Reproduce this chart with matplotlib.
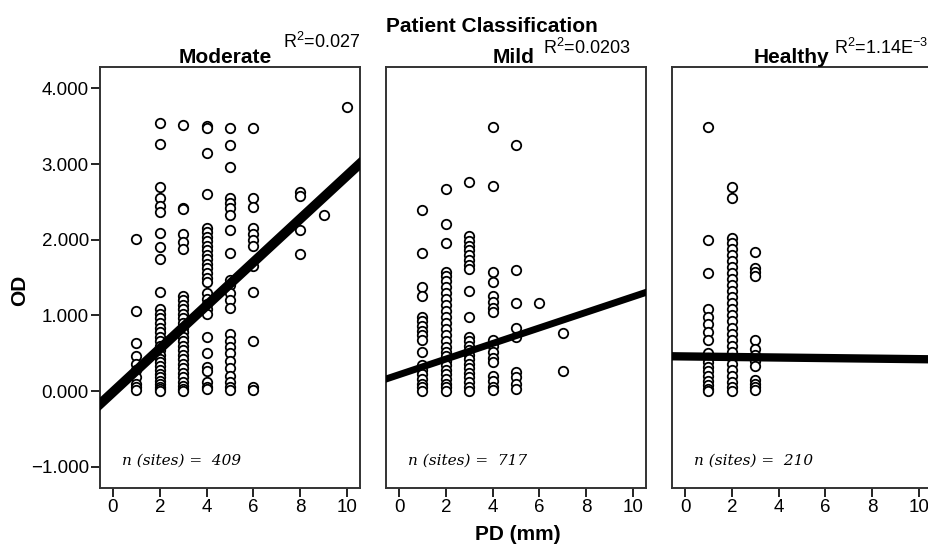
import matplotlib.pyplot as plt

plt.rcParams["font.family"] = ["Liberation Sans", "DejaVu Sans"]
plt.rcParams["mathtext.fontset"] = "custom"
plt.rcParams["mathtext.rm"] = "Liberation Sans"
plt.rcParams["axes.unicode_minus"] = True

# OD values per PD column
moderate = {
    1: [2.01, 1.06, 0.64, 0.47, 0.36, 0.28, 0.18, 0.10, 0.05, 0.02],
    2: [3.54, 3.26, 2.69, 2.55, 2.45, 2.37, 2.09, 1.91, 1.74, 1.31,
        1.08, 1.02, 0.96, 0.90, 0.84, 0.78, 0.72, 0.66, 0.60, 0.54, 0.48,
        0.43, 0.38, 0.33, 0.28, 0.23, 0.18, 0.14, 0.10, 0.06, 0.03, 0.0],
    3: [3.52, 2.42, 2.40, 2.07, 1.97, 1.88, 1.25, 1.20, 1.14, 1.08, 1.02,
        0.96, 0.90, 0.84, 0.78, 0.72, 0.66, 0.60, 0.54, 0.48, 0.42, 0.36,
        0.30, 0.24, 0.18, 0.12, 0.07, 0.03, 0.0],
    4: [3.50, 3.47, 3.15, 2.60, 2.16, 2.10, 2.04, 1.98, 1.92, 1.86, 1.80,
        1.74, 1.68, 1.62, 1.56, 1.50, 1.44, 1.30, 1.22, 1.15, 1.08, 1.02,
        0.72, 0.50, 0.32, 0.27, 0.12, 0.06, 0.03],
    5: [3.48, 3.25, 2.96, 2.55, 2.48, 2.42, 2.33, 2.13, 1.83, 1.47, 1.40,
        1.30, 1.20, 1.10, 0.75, 0.66, 0.58, 0.50, 0.40, 0.30, 0.20, 0.12,
        0.06, 0.02],
    6: [3.48, 2.55, 2.43, 2.16, 2.07, 1.99, 1.92, 1.65, 1.31, 0.66, 0.06, 0.02],
    8: [2.63, 2.58, 2.13, 1.81],
    9: [2.33],
    10: [3.75],
}
mild = {
    1: [2.39, 1.82, 1.38, 1.25, 0.98, 0.92, 0.86, 0.80, 0.74, 0.68, 0.52,
        0.34, 0.28, 0.22, 0.16, 0.10, 0.05, 0.0],
    2: [2.67, 2.21, 1.96, 1.58, 1.52, 1.45, 1.38, 1.30, 1.22, 1.14, 1.06,
        0.98, 0.90, 0.82, 0.74, 0.66, 0.58, 0.52, 0.46, 0.40, 0.34, 0.28,
        0.22, 0.16, 0.10, 0.05, 0.0],
    3: [2.76, 2.05, 1.98, 1.92, 1.86, 1.80, 1.73, 1.66, 1.61, 1.32, 0.98,
        0.72, 0.66, 0.60, 0.54, 0.48, 0.42, 0.36, 0.30, 0.24, 0.18, 0.12,
        0.06, 0.0],
    4: [3.49, 2.71, 1.57, 1.44, 1.26, 1.18, 1.10, 1.04, 0.68, 0.60, 0.52,
        0.44, 0.38, 0.20, 0.13, 0.06, 0.01],
    5: [3.25, 1.60, 1.16, 0.83, 0.72, 0.25, 0.18, 0.10, 0.03],
    6: [1.16],
    7: [0.77, 0.27],
}
healthy = {
    1: [3.49, 1.99, 1.56, 1.08, 0.98, 0.88, 0.78, 0.68, 0.50, 0.44, 0.38,
        0.32, 0.26, 0.20, 0.14, 0.08, 0.03, 0.0],
    2: [2.70, 2.55, 2.02, 1.95, 1.88, 1.80, 1.72, 1.64, 1.56, 1.48, 1.40,
        1.32, 1.24, 1.16, 1.08, 1.00, 0.92, 0.84, 0.76, 0.68, 0.60, 0.52,
        0.44, 0.36, 0.28, 0.20, 0.12, 0.06, 0.0],
    3: [1.84, 1.62, 1.57, 1.52, 0.68, 0.56, 0.48, 0.40, 0.33, 0.15, 0.10,
        0.05, 0.01],
}

groups = ["Moderate", "Mild", "Healthy"]
r2_labels = ["R$^2$=0.027", "R$^2$=0.0203", "R$^2$=1.14E$^{-3}$"]
n_sites = [409, 717, 210]
slopes = [0.286, 0.103, -0.0036]
intercepts = [-0.013, 0.217, 0.458]
line_widths = [7, 5, 6]
panels = [moderate, mild, healthy]

fig = plt.figure(figsize=(9.29, 5.48), dpi=100)
lefts = [0.1076, 0.4155, 0.7234]
title_x = [0.48, 0.49, 0.458]
r2_x = [0.305, 0.585, 0.898]
r2_y = [0.913, 0.902, 0.902]

for i, data in enumerate(panels):
    ax = fig.add_axes([lefts[i], 0.1095, 0.280, 0.768])
    xs, ys = [], []
    for pd_val, vals in data.items():
        xs += [pd_val] * len(vals)
        ys += vals
    ax.plot(xs, ys, "o", ms=6.8, mfc="white", mec="black", mew=1.3, zorder=2)
    lx = [-1, 11]
    ax.plot(lx, [intercepts[i] + slopes[i] * x for x in lx], color="black",
            lw=line_widths[i], solid_capstyle="butt", zorder=3)
    ax.set_xlim(-0.556, 10.56)
    ax.set_ylim(-1.28, 4.28)
    ax.set_xticks([0, 2, 4, 6, 8, 10])
    ax.set_yticks([-1, 0, 1, 2, 3, 4])
    if i == 0:
        ax.set_yticklabels(["\u22121.000", "0.000", "1.000", "2.000", "3.000", "4.000"])
    else:
        ax.tick_params(axis="y", left=False, labelleft=False)
    ax.tick_params(direction="out", length=6.5, width=1.4, labelsize=13.5,
                   pad=1.5, color="#222222")
    for sp in ax.spines.values():
        sp.set_linewidth(1.4)
        sp.set_color("#333333")
    ax.set_title(groups[i], fontsize=15, fontweight="bold", pad=3, x=title_x[i])
    ax.text(0.085, 0.055, f"n (sites) =  {n_sites[i]}", transform=ax.transAxes,
            family="DejaVu Serif", style="italic", fontsize=11, va="baseline")
    fig.text(r2_x[i], r2_y[i], r2_labels[i], fontsize=13, ha="left", va="baseline")

fig.text(0.529, 0.942, "Patient Classification", fontsize=15, fontweight="bold",
         ha="center", va="baseline")
fig.text(0.557, 0.015, "PD (mm)", fontsize=15, fontweight="bold", ha="center")
fig.text(0.021, 0.471, "OD", fontsize=15, fontweight="bold", rotation=90,
         ha="center", va="center")

fig.savefig("out.png", dpi=100)
